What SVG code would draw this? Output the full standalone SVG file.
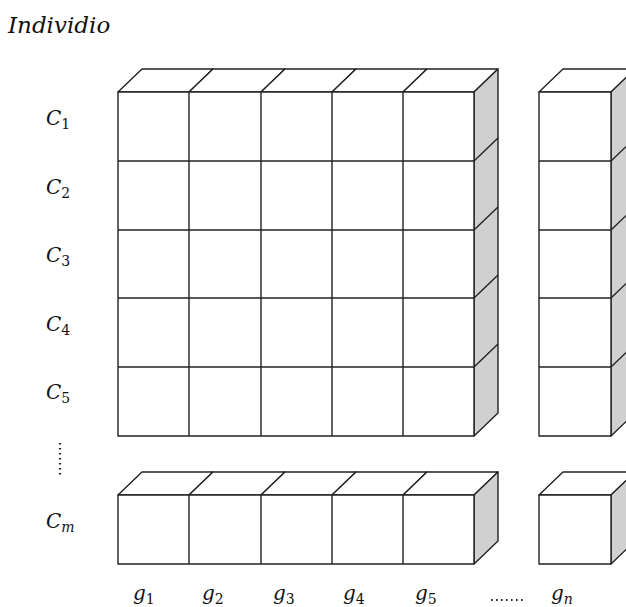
<svg xmlns="http://www.w3.org/2000/svg" width="626" height="607" viewBox="0 0 626 607">
<style>
.f{fill:#fff;stroke:#222;stroke-width:1.4;stroke-linejoin:round}
.s{fill:#d0d0d0;stroke:#222;stroke-width:1.4;stroke-linejoin:round}
.l{stroke:#222;stroke-width:1.4;fill:none}
.t{font-family:"DejaVu Serif","Liberation Serif",serif;font-style:italic;fill:#111}
.m{font-size:20px}
.sb{font-size:14px;font-style:normal}
.it{font-style:italic}
.dot{stroke:#222;stroke-width:2.2;stroke-dasharray:1.6 3.4;fill:none}
</style>
<rect width="626" height="607" fill="#fff"/>
<text class="t" x="8" y="33" font-size="23">Individio</text>

<g id="main-block">
  <polygon class="f" points="118,92 142,69 213,69 189,92"/>
  <polygon class="f" points="189,92 213,69 285,69 261,92"/>
  <polygon class="f" points="261,92 285,69 356,69 332,92"/>
  <polygon class="f" points="332,92 356,69 427,69 403,92"/>
  <polygon class="f" points="403,92 427,69 498,69 474,92"/>
  <polygon class="s" points="474,92 498,69 498,413 474,436"/>
  <line class="l" x1="474" y1="161" x2="498" y2="138"/>
  <line class="l" x1="474" y1="230" x2="498" y2="207"/>
  <line class="l" x1="474" y1="298" x2="498" y2="275"/>
  <line class="l" x1="474" y1="367" x2="498" y2="344"/>
  <rect class="f" x="118" y="92" width="356" height="344"/>
  <line class="l" x1="189" y1="92" x2="189" y2="436"/>
  <line class="l" x1="261" y1="92" x2="261" y2="436"/>
  <line class="l" x1="332" y1="92" x2="332" y2="436"/>
  <line class="l" x1="403" y1="92" x2="403" y2="436"/>
  <line class="l" x1="118" y1="161" x2="474" y2="161"/>
  <line class="l" x1="118" y1="230" x2="474" y2="230"/>
  <line class="l" x1="118" y1="298" x2="474" y2="298"/>
  <line class="l" x1="118" y1="367" x2="474" y2="367"/>
</g>

<g id="right-column">
  <polygon class="f" points="539,92 563,69 635,69 611,92"/>
  <polygon class="s" points="611,92 635,69 635,413 611,436"/>
  <line class="l" x1="611" y1="161" x2="635" y2="138"/>
  <line class="l" x1="611" y1="230" x2="635" y2="207"/>
  <line class="l" x1="611" y1="298" x2="635" y2="275"/>
  <line class="l" x1="611" y1="367" x2="635" y2="344"/>
  <rect class="f" x="539" y="92" width="72" height="344"/>
  <line class="l" x1="539" y1="161" x2="611" y2="161"/>
  <line class="l" x1="539" y1="230" x2="611" y2="230"/>
  <line class="l" x1="539" y1="298" x2="611" y2="298"/>
  <line class="l" x1="539" y1="367" x2="611" y2="367"/>
</g>

<g id="bottom-row">
  <polygon class="f" points="118,495 142,472 213,472 189,495"/>
  <polygon class="f" points="189,495 213,472 285,472 261,495"/>
  <polygon class="f" points="261,495 285,472 356,472 332,495"/>
  <polygon class="f" points="332,495 356,472 427,472 403,495"/>
  <polygon class="f" points="403,495 427,472 498,472 474,495"/>
  <polygon class="s" points="474,495 498,472 498,541 474,564"/>
  <rect class="f" x="118" y="495" width="356" height="69"/>
  <line class="l" x1="189" y1="495" x2="189" y2="564"/>
  <line class="l" x1="261" y1="495" x2="261" y2="564"/>
  <line class="l" x1="332" y1="495" x2="332" y2="564"/>
  <line class="l" x1="403" y1="495" x2="403" y2="564"/>
</g>

<g id="bottom-right-cell">
  <polygon class="f" points="539,495 563,472 635,472 611,495"/>
  <polygon class="s" points="611,495 635,472 635,541 611,564"/>
  <rect class="f" x="539" y="495" width="72" height="69"/>
</g>

<g id="row-labels" class="t m">
  <text x="46" y="125">C<tspan class="sb" dy="4">1</tspan></text>
  <text x="46" y="194">C<tspan class="sb" dy="4">2</tspan></text>
  <text x="46" y="262">C<tspan class="sb" dy="4">3</tspan></text>
  <text x="46" y="331">C<tspan class="sb" dy="4">4</tspan></text>
  <text x="46" y="399">C<tspan class="sb" dy="4">5</tspan></text>
  <text x="46" y="528">C<tspan class="sb it" dy="4">m</tspan></text>
</g>
<line class="dot" x1="60" y1="443" x2="60" y2="478"/>

<g id="col-labels" class="t m">
  <text x="133" y="600">g<tspan class="sb" dy="4">1</tspan></text>
  <text x="202" y="600">g<tspan class="sb" dy="4">2</tspan></text>
  <text x="273" y="600">g<tspan class="sb" dy="4">3</tspan></text>
  <text x="343" y="600">g<tspan class="sb" dy="4">4</tspan></text>
  <text x="415" y="600">g<tspan class="sb" dy="4">5</tspan></text>
  <text x="551" y="600">g<tspan class="sb it" dy="4">n</tspan></text>
</g>
<line class="dot" x1="491" y1="600" x2="526" y2="600" style="stroke-width:2"/>
</svg>
